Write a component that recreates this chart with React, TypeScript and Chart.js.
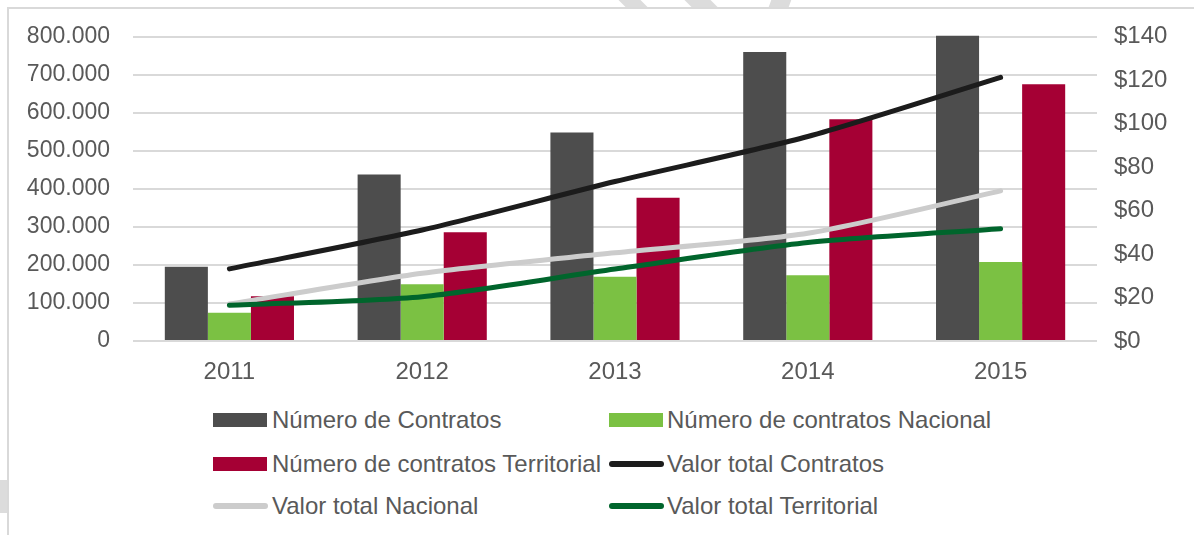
import React, { useEffect, useRef } from 'react';
import { Chart, registerables } from 'chart.js';

Chart.register(...registerables);

// ---- data ----
const years = ['2011', '2012', '2013', '2014', '2015'];
const numeroContratos = [195000, 438000, 548000, 760000, 803000];
const contratosNacional = [74000, 149000, 169000, 173000, 208000];
const contratosTerritorial = [118000, 286000, 377000, 583000, 675000];
const valorTotalContratos = [33.2, 51.1, 73.4, 94.1, 121.3];
const valorTotalNacional = [17.0, 31.2, 40.6, 49.6, 69.1];
const valorTotalTerritorial = [16.4, 20.4, 33.1, 45.3, 51.7];

const seriesLabels = [
  'Número de Contratos',
  'Número de contratos Nacional',
  'Número de contratos Territorial',
  'Valor total Contratos',
  'Valor total Nacional',
  'Valor total Territorial',
];
const seriesColors = ['#4d4d4d', '#7bc143', '#a50034', '#1c1c1c', '#cccccc', '#00652c'];
const seriesKinds = ['bar', 'bar', 'bar', 'line', 'line', 'line'];

const FONT = '"Liberation Sans", Arial, sans-serif';
const TEXT = '#595959';

const fmtThousands = (v: number) => String(v).replace(/\B(?=(\d{3})+(?!\d))/g, '.');

export default function App() {
  const ref = useRef<HTMLCanvasElement>(null);

  useEffect(() => {
    document.body.style.margin = '0';
    const lineBase = {
      type: 'line' as const,
      borderWidth: 5,
      pointRadius: 0,
      pointHoverRadius: 0,
      tension: 0.25,
      yAxisID: 'y1',
      borderCapStyle: 'round' as const,
      borderJoinStyle: 'round' as const,
      fill: false,
    };
    const chart = new Chart(ref.current!, {
      type: 'bar',
      data: {
        labels: years,
        datasets: [
          { type: 'bar', label: seriesLabels[0], data: numeroContratos, backgroundColor: seriesColors[0], yAxisID: 'y', order: 3, clip: false as any },
          { type: 'bar', label: seriesLabels[1], data: contratosNacional, backgroundColor: seriesColors[1], yAxisID: 'y', order: 4 },
          { type: 'bar', label: seriesLabels[2], data: contratosTerritorial, backgroundColor: seriesColors[2], yAxisID: 'y', order: 5 },
          { ...lineBase, label: seriesLabels[3], data: valorTotalContratos, borderColor: seriesColors[3], backgroundColor: seriesColors[3], order: 2 },
          { ...lineBase, label: seriesLabels[4], data: valorTotalNacional, borderColor: seriesColors[4], backgroundColor: seriesColors[4], order: 1 },
          { ...lineBase, label: seriesLabels[5], data: valorTotalTerritorial, borderColor: seriesColors[5], backgroundColor: seriesColors[5], order: 0 },
        ] as any,
      },
      options: {
        animation: false,
        responsive: false,
        layout: { padding: { top: 36, left: 0, right: 0, bottom: 0 } },
        plugins: { legend: { display: false }, tooltip: { enabled: false } },
        datasets: { bar: { categoryPercentage: 0.67, barPercentage: 1 } },
        scales: {
          x: {
            grid: { display: false, drawTicks: false },
            border: { display: false },
            ticks: { color: TEXT, font: { family: FONT, size: 24 }, padding: 17 },
            afterFit: (s: any) => { s.height = 39; },
          },
          y: {
            position: 'left',
            min: 0,
            max: 800000,
            ticks: {
              stepSize: 100000,
              color: TEXT,
              font: { family: FONT, size: 23 },
              padding: 23,
              callback: (v: any) => fmtThousands(Number(v)),
            },
            grid: { color: '#d9d9d9', lineWidth: 2, drawTicks: false },
            border: { display: false },
            afterFit: (s: any) => { s.width = 133; },
          },
          y1: {
            position: 'right',
            min: 0,
            max: 140,
            ticks: {
              stepSize: 20,
              color: TEXT,
              font: { family: FONT, size: 24 },
              padding: 17,
              callback: (v: any) => '$' + v,
            },
            grid: { display: false, drawTicks: false },
            border: { display: false },
            afterFit: (s: any) => { s.width = 97; },
          },
        },
      } as any,
    });
    return () => chart.destroy();
  }, []);

  const colX = [{ sw: 213, tx: 272 }, { sw: 609, tx: 667 }];
  const rowY = [420, 464, 506];

  return (
    <div style={{ position: 'relative', width: 1194, height: 535, overflow: 'hidden', background: '#fff' }}>
      {/* frame */}
      <div style={{ position: 'absolute', left: 7, top: 7, width: 1300, height: 600, borderLeft: '2px solid #d9d9d9', borderTop: '2px solid #d9d9d9' }} />
      {/* faint watermark fragments */}
      <div style={{ position: 'absolute', left: 622, top: 0, width: 22, height: 7, background: '#dcdcdc', transform: 'skewX(45deg)' }} />
      <div style={{ position: 'absolute', left: 688, top: 0, width: 26, height: 7, background: '#dcdcdc', transform: 'skewX(45deg)' }} />
      <div style={{ position: 'absolute', left: 770, top: 0, width: 20, height: 7, background: '#dcdcdc', transform: 'skewX(-20deg)' }} />
      <div style={{ position: 'absolute', left: 0, top: 480, width: 7, height: 33, background: '#dcdcdc' }} />
      <canvas ref={ref} width={1194} height={380} style={{ position: 'absolute', left: 0, top: 0 }} />
      {seriesLabels.map((label, i) => {
        const col = colX[i % 2];
        const y = rowY[Math.floor(i / 2)];
        const isBar = seriesKinds[i] === 'bar';
        return (
          <div key={label} style={{ position: 'absolute', left: 0, top: y - 15, height: 30, width: 1194 }}>
            <div
              style={{
                position: 'absolute',
                left: col.sw,
                top: isBar ? 8 : 12,
                width: isBar ? 54 : 55,
                height: isBar ? 14 : 6,
                borderRadius: isBar ? 0 : 3,
                background: seriesColors[i],
              }}
            />
            <div
              style={{
                position: 'absolute',
                left: col.tx,
                top: 0,
                height: 30,
                lineHeight: '30px',
                fontFamily: FONT,
                fontSize: 24,
                color: TEXT,
                whiteSpace: 'nowrap',
              }}
            >
              {label}
            </div>
          </div>
        );
      })}
    </div>
  );
}
